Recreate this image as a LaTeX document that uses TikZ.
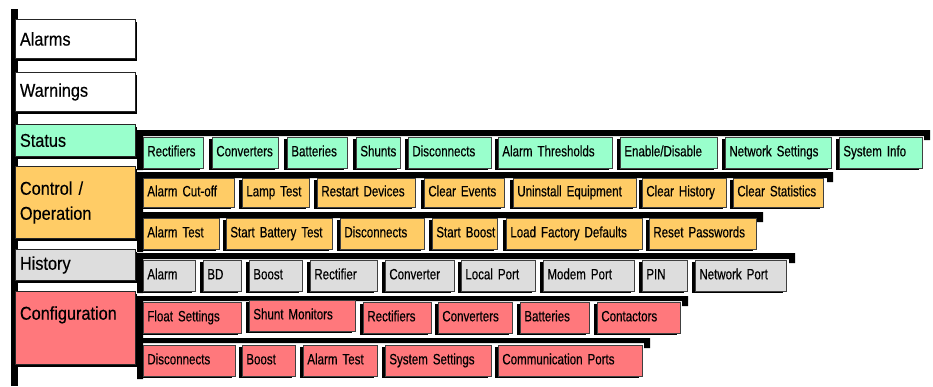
\documentclass[tikz,border=0pt]{standalone}
\usepackage{fontspec}
\usetikzlibrary{shadows}
\newfontfamily\catfont[FakeStretch=0.88, FakeBold=0.4]{Liberation Sans}
\newfontfamily\tabfont[FakeStretch=0.77, FakeBold=0.4]{Liberation Sans}
\definecolor{statcol}{HTML}{99FFCC}
\definecolor{ctrlcol}{HTML}{FFCC66}
\definecolor{histcol}{HTML}{DDDDDD}
\definecolor{confcol}{HTML}{FF787C}
\tikzset{
  cat/.style={draw=black!85, line width=0.9pt, anchor=north west, inner xsep=4.5pt, inner ysep=0pt,
    text width=111pt, align=left, minimum height=#1pt, font=\catfont\fontsize{18.5}{25}\selectfont,
    drop shadow={opacity=1, fill=black, shadow xshift=1.5pt, shadow yshift=-3pt}},
  tab/.style={draw=black!75, line width=0.7pt, anchor=north west, inner xsep=4pt, inner ysep=0pt,
    text width=#1pt, text height=11pt, text depth=4pt, align=left, minimum height=31pt,
    font=\tabfont\fontsize{15}{18}\selectfont,
    drop shadow={opacity=1, fill=black, shadow xshift=-3pt, shadow yshift=-1.5pt}},
  shelf/.style={fill=black},
}
\begin{document}
\begin{tikzpicture}[x=1pt, y=-1pt]
			\useasboundingbox (0,0) rectangle (933,386);
			% main bar and shelves
			\fill[shelf] (11,9) rectangle (18,386);
			\fill[shelf] (137,130) -| (930,140) -- (924,140) |- (143,136) -- (143,170) -- (137,170) -- cycle;
			\fill[shelf] (137,172) -| (833,182) -- (827,182) |- (143,178) -- (143,252) -- (137,252) -- cycle;
			\fill[shelf] (143,212) -| (763,222) -- (757,222) |- (143,218) -- cycle;
			\fill[shelf] (137,253) -| (795,263) -- (789,263) |- (143,259) -- (143,293) -- (137,293) -- cycle;
			\fill[shelf] (137,296) -| (688,306) -- (682,306) |- (143,301) -- (143,379) -- (137,379) -- cycle;
			\fill[shelf] (143,338) -| (650,348) -- (644,348) |- (143,343) -- cycle;
			
			\node[cat=39, fill=white] (alarms) at (15,19) {Alarms};
			\node[cat=39, fill=white] (warnings) at (15,72) {Warnings};
			\node[cat=32, fill=statcol] (status) at (15,124) {Status};
			\node[cat=72, fill=ctrlcol] (control) at (15,166) {Control /\\Operation};
			\node[cat=31, fill=histcol] (history) at (15,249) {History};
			\node[cat=73, fill=confcol, text depth=30pt] (config) at (15,291) {Configuration};
			
			% status
			\node[tab=52, fill=statcol] (s1) at (143,137) {Rectifiers};
			\node[tab=58, fill=statcol] (s2) at (212,137) {Converters};
			\node[tab=52, fill=statcol] (s3) at (287,137) {Batteries};
			\node[tab=36, fill=statcol] (s4) at (356,137) {Shunts};
			\node[tab=75, fill=statcol] (s5) at (408,137) {Disconnects};
			\node[tab=106, fill=statcol] (s6) at (498,137) {Alarm~Thresholds};
			\node[tab=89, fill=statcol] (s7) at (620,137) {Enable/Disable};
			\node[tab=98, fill=statcol] (s8) at (725,137) {Network~Settings};
			\node[tab=75, fill=statcol] (s9) at (839,137) {System~Info};
			
			% control / operation
			\node[tab=83, fill=ctrlcol, minimum height=29pt] (c1) at (143,178) {Alarm~Cut-off};
			\node[tab=59, fill=ctrlcol, minimum height=29pt] (c2) at (242,178) {Lamp~Test};
			\node[tab=90, fill=ctrlcol, minimum height=29pt] (c3) at (317,178) {Restart~Devices};
			\node[tab=72, fill=ctrlcol, minimum height=29pt] (c4) at (424,178) {Clear~Events};
			\node[tab=115, fill=ctrlcol, minimum height=29pt] (c5) at (513,178) {Uninstall~Equipment};
			\node[tab=76, fill=ctrlcol, minimum height=29pt] (c6) at (642,178) {Clear~History};
			\node[tab=82, fill=ctrlcol, minimum height=29pt] (c7) at (733,178) {Clear~Statistics};
			\node[tab=68, fill=ctrlcol] (c8) at (143,218) {Alarm~Test};
			\node[tab=98, fill=ctrlcol] (c9) at (226,218) {Start~Battery~Test};
			\node[tab=76, fill=ctrlcol] (c10) at (340,218) {Disconnects};
			\node[tab=57, fill=ctrlcol] (c11) at (432,218) {Start~Boost};
			\node[tab=128, fill=ctrlcol] (c12) at (506,218) {Load~Factory~Defaults};
			\node[tab=99, fill=ctrlcol] (c13) at (649,218) {Reset~Passwords};
			
			% history
			\node[tab=44, fill=histcol] (h1) at (143,260) {Alarm};
			\node[tab=30, fill=histcol] (h2) at (203,260) {BD};
			\node[tab=45, fill=histcol] (h3) at (249,260) {Boost};
			\node[tab=59, fill=histcol] (h4) at (310,260) {Rectifier};
			\node[tab=61, fill=histcol] (h5) at (385,260) {Converter};
			\node[tab=66, fill=histcol] (h6) at (461,260) {Local~Port};
			\node[tab=83, fill=histcol] (h7) at (543,260) {Modem~Port};
			\node[tab=37, fill=histcol] (h8) at (642,260) {PIN};
			\node[tab=83, fill=histcol] (h9) at (695,260) {Network~Port};
			
			% configuration
			\node[tab=90, fill=confcol] (g1) at (143,302) {Float~Settings};
			\node[tab=98, fill=confcol] (g2) at (249,300) {Shunt~Monitors};
			\node[tab=60, fill=confcol] (g3) at (363,302) {Rectifiers};
			\node[tab=66, fill=confcol] (g4) at (438,302) {Converters};
			\node[tab=61, fill=confcol] (g5) at (520,302) {Batteries};
			\node[tab=75, fill=confcol] (g6) at (597,302) {Contactors};
			\node[tab=84, fill=confcol] (g7) at (143,345) {Disconnects};
			\node[tab=45, fill=confcol] (g8) at (242,345) {Boost};
			\node[tab=66, fill=confcol] (g9) at (303,345) {Alarm~Test};
			\node[tab=98, fill=confcol] (g10) at (385,345) {System~Settings};
			\node[tab=136, fill=confcol] (g11) at (498,345) {Communication~Ports};
		\end{tikzpicture}
\end{document}
